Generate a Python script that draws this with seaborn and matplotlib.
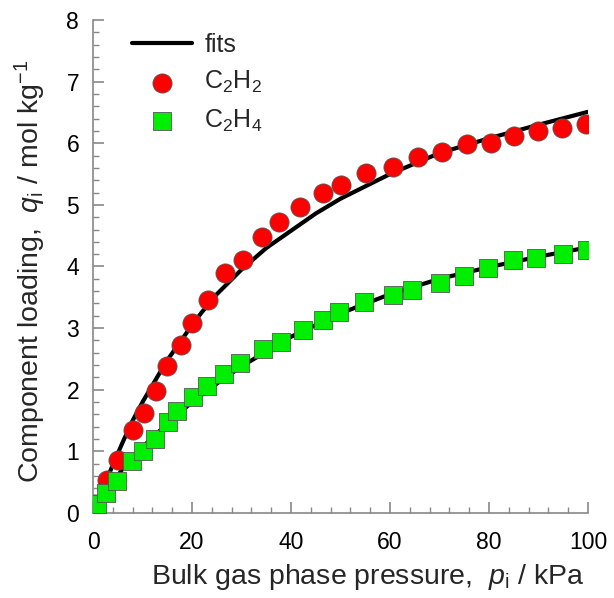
import numpy as np
import pandas as pd
import matplotlib
matplotlib.use("Agg")
import matplotlib.pyplot as plt
import seaborn as sns
from matplotlib.ticker import MultipleLocator

# measured data, C2H2
p_c2h2 = [0.5, 2.8, 5.1, 8.0, 10.3, 12.7, 14.9, 17.8, 20.0, 23.3, 26.7, 30.2, 34.1, 37.6,
          41.8, 46.4, 50.1, 55.1, 60.5, 65.6, 70.4, 75.6, 80.4, 85.0, 89.9, 94.7, 99.6]
q_c2h2 = [0.15, 0.54, 0.86, 1.35, 1.62, 1.98, 2.39, 2.73, 3.08, 3.46, 3.89, 4.10, 4.48, 4.72,
          4.97, 5.19, 5.32, 5.52, 5.62, 5.77, 5.86, 5.99, 6.00, 6.12, 6.20, 6.25, 6.31]

# measured data, C2H4
p_c2h4 = [0.8, 2.6, 4.8, 7.8, 10.0, 12.5, 15.1, 16.9, 20.1, 23.0, 26.5, 29.7, 34.4, 37.9,
          42.4, 46.5, 49.7, 54.7, 60.5, 64.4, 70.0, 74.9, 79.8, 84.9, 89.5, 95.0, 99.8]
q_c2h4 = [0.15, 0.32, 0.52, 0.84, 1.00, 1.20, 1.48, 1.65, 1.89, 2.06, 2.25, 2.44, 2.66, 2.78,
          2.97, 3.13, 3.26, 3.42, 3.54, 3.62, 3.73, 3.85, 3.97, 4.10, 4.14, 4.20, 4.27]

# fit curves
p_fit_c2h2 = [0, 2, 4, 6, 8, 10, 13, 15, 18, 20, 22, 25, 30, 35, 40, 45, 50, 60, 70, 80, 90, 100]
q_fit_c2h2 = [0, 0.40, 0.78, 1.15, 1.50, 1.80, 2.21, 2.48, 2.82, 3.05, 3.26, 3.55, 3.95,
              4.30, 4.58, 4.86, 5.10, 5.50, 5.84, 6.08, 6.30, 6.51]
p_fit_c2h4 = [0, 3, 6, 10, 15, 20, 25, 30, 40, 50, 60, 70, 80, 90, 100]
q_fit_c2h4 = [0, 0.38, 0.72, 1.07, 1.45, 1.80, 2.10, 2.38, 2.86, 3.24, 3.55, 3.80, 3.99, 4.16, 4.31]

sns.set_style("ticks")
plt.rcParams['font.family'] = ['Liberation Sans', 'DejaVu Sans']
plt.rcParams['mathtext.fontset'] = 'custom'
plt.rcParams['mathtext.rm'] = 'Liberation Sans'
plt.rcParams['mathtext.it'] = 'Liberation Sans:italic'

fig = plt.figure(figsize=(6.14, 5.98), dpi=100)
ax = fig.add_axes([0.1515, 0.1421, 0.8062, 0.8245])

sns.lineplot(x=p_fit_c2h2, y=q_fit_c2h2, color='black', linewidth=3, label='fits', ax=ax, zorder=2)
sns.lineplot(x=p_fit_c2h4, y=q_fit_c2h4, color='black', linewidth=3, legend=False, ax=ax, zorder=2)

sns.scatterplot(x=p_c2h2, y=q_c2h2, marker='o', s=190, color='#ff0000', edgecolor='#555555',
                linewidth=0.6, label=r'C$_2$H$_2$', ax=ax, zorder=3)
sns.scatterplot(x=p_c2h4, y=q_c2h4, marker='s', s=150, color='#00ee00', edgecolor='#555555',
                linewidth=0.6, label=r'C$_2$H$_4$', ax=ax, zorder=4)

ax.set_xlim(0, 100)
ax.set_ylim(0, 8)
ax.xaxis.set_major_locator(MultipleLocator(20))
ax.xaxis.set_minor_locator(MultipleLocator(4))
ax.yaxis.set_major_locator(MultipleLocator(1))
ax.yaxis.set_minor_locator(MultipleLocator(0.2))

for side in ['top', 'right']:
    ax.spines[side].set_visible(False)
for side in ['left', 'bottom']:
    ax.spines[side].set_color('#888888')
    ax.spines[side].set_linewidth(1.2)

ax.tick_params(which='major', direction='in', length=8, width=1.2, color='#888888',
               labelsize=16.5, labelcolor='black')
ax.tick_params(axis='x', which='major', pad=13)
ax.tick_params(axis='y', which='major', pad=10)
ax.tick_params(which='minor', direction='in', length=4.5, width=1.0, color='#888888')

ax.set_xlabel(r'Bulk gas phase pressure,  $p_\mathrm{i}$ / kPa', fontsize=20.5, labelpad=6, x=0.555)
ax.set_ylabel(r'Component loading,  $q_\mathrm{i}$ / mol kg$^{-1}$', fontsize=20.5, labelpad=13, y=0.49)

ax.legend(loc='upper left', bbox_to_anchor=(0.033, 1.02), frameon=False, fontsize=18,
          handlelength=2.4, handletextpad=0.5, labelspacing=0.5)

fig.savefig('out.png', dpi=100)
